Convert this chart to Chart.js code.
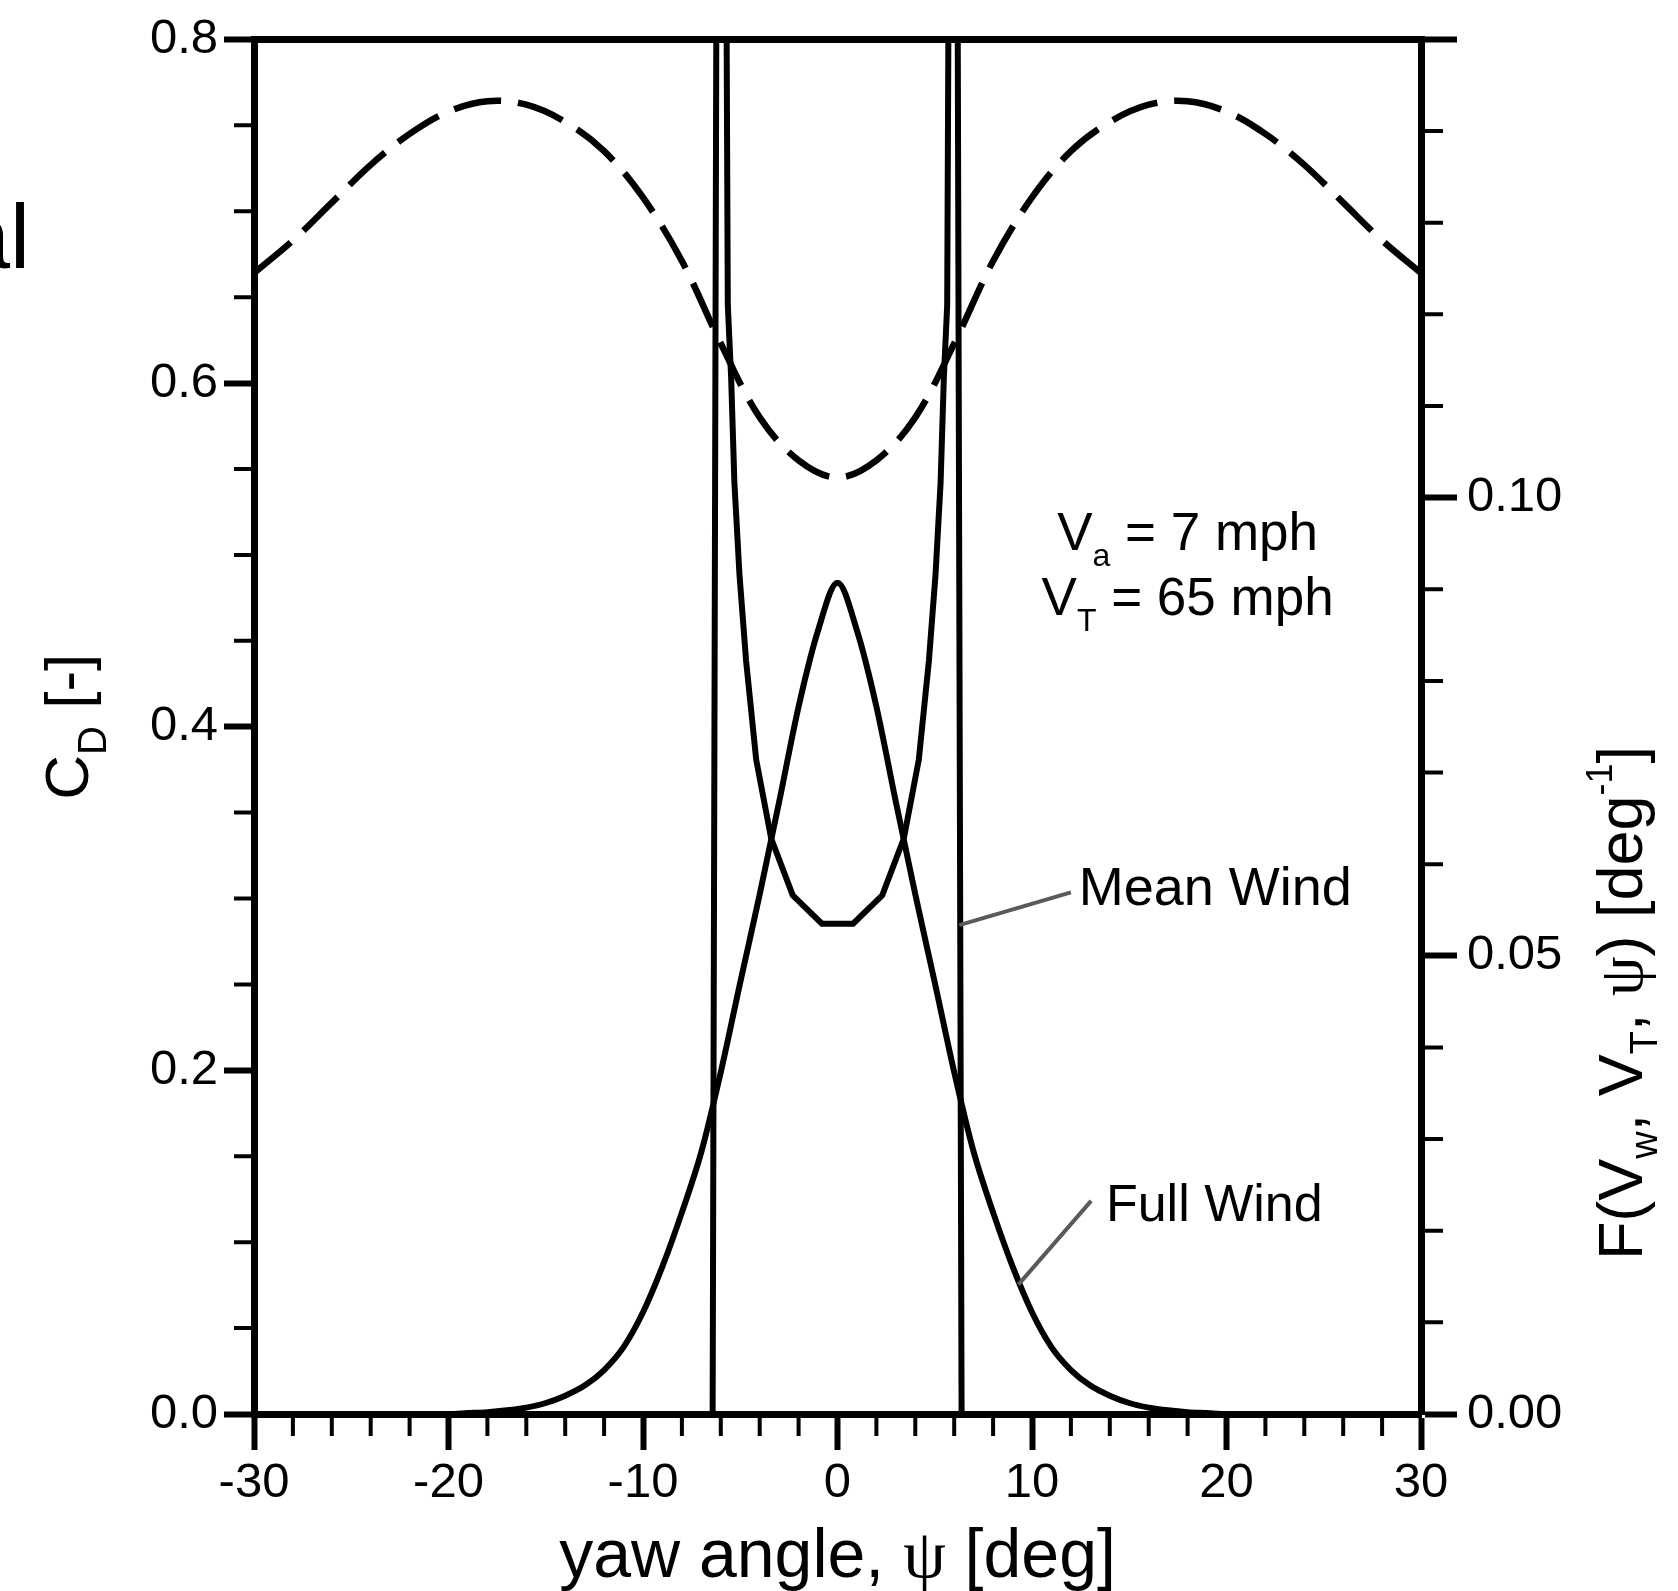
<!DOCTYPE html>
<html>
<head>
<meta charset="utf-8">
<script src="https://cdn.jsdelivr.net/npm/chart.js@4"></script>
<style>
  html, body { margin: 0; padding: 0; background: #fff; }
  #wrap { width: 1678px; height: 1591px; }
</style>
</head>
<body>
<div id="wrap"><canvas id="chart" width="1678" height="1591"></canvas></div>
<script>
// drag coefficient vs yaw angle (dashed, left axis)
const yawCd = [-30, -28, -26, -24, -22, -20, -18, -16, -14, -12, -10, -8, -6, -4, -2, 0,
  2, 4, 6, 8, 10, 12, 14, 16, 18, 20, 22, 24, 26, 28, 30];
const cdValues = [0.664, 0.683, 0.705, 0.727, 0.745, 0.758, 0.764, 0.762, 0.752, 0.735, 0.708, 0.671, 0.623, 0.580, 0.555, 0.545,
  0.555, 0.580, 0.623, 0.671, 0.708, 0.735, 0.752, 0.762, 0.764, 0.758, 0.745, 0.727, 0.705, 0.683, 0.664];

// yaw angle distribution, full wind (right axis)
const yawFull = [-30, -20, -19, -18, -17, -16, -15, -14, -13, -12, -11, -10, -9, -8, -7, -6, -5, -4, -3, -2, -1, 0,
  1, 2, 3, 4, 5, 6, 7, 8, 9, 10, 11, 12, 13, 14, 15, 16, 17, 18, 19, 20, 30];
const fullWind = [0, 0, 0.0001, 0.0002, 0.0004, 0.0007, 0.0012, 0.0020, 0.0031, 0.0048, 0.0073, 0.0111, 0.0161, 0.0220, 0.0286, 0.0373, 0.0471, 0.0567, 0.0668, 0.0772, 0.0855, 0.0907,
  0.0855, 0.0772, 0.0668, 0.0567, 0.0471, 0.0373, 0.0286, 0.0220, 0.0161, 0.0111, 0.0073, 0.0048, 0.0031, 0.0020, 0.0012, 0.0007, 0.0004, 0.0002, 0.0001, 0, 0];

// yaw angle distribution, mean wind only (right axis, runs off the top near +-6 deg)
const yawMean = [-30, -6.42, -6.22, -5.72, -5.64, -5.47, -5.30, -5.04, -4.70, -4.18, -3.41, -2.30, -0.80,
  0.80, 2.30, 3.41, 4.18, 4.70, 5.04, 5.30, 5.47, 5.64, 5.72, 6.17, 6.38, 30];
const meanWind = [0, 0, 0.16, 0.16, 0.121, 0.1132, 0.1016, 0.0916, 0.0822, 0.0714, 0.0628, 0.0566, 0.0535,
  0.0535, 0.0566, 0.0628, 0.0714, 0.0822, 0.0916, 0.1016, 0.1132, 0.121, 0.16, 0.16, 0, 0];

const SANS = "'Liberation Sans', Arial, sans-serif";
const SERIF = "'Liberation Serif', 'Times New Roman', serif";

function toPoints(xs, ys) {
  return xs.map((x, i) => ({ x: x, y: ys[i] }));
}

// draws a run of text pieces: [text, size, dy, family]
function richText(ctx, parts, x, y, align) {
  let w = 0;
  parts.forEach((p) => {
    ctx.font = p[1] + "px " + (p[3] || SANS);
    w += ctx.measureText(p[0]).width;
  });
  let cx = align === "center" ? x - w / 2 : x;
  ctx.textAlign = "left";
  ctx.textBaseline = "alphabetic";
  parts.forEach((p) => {
    ctx.font = p[1] + "px " + (p[3] || SANS);
    ctx.fillText(p[0], cx, y + (p[2] || 0));
    cx += ctx.measureText(p[0]).width;
  });
}

const decorPlugin = {
  id: "decor",
  afterDatasetsDraw(chart) {
    const ctx = chart.ctx;
    const area = chart.chartArea;
    const xs = chart.scales.x;
    const yl = chart.scales.y;
    const yr = chart.scales.y2;
    ctx.save();
    ctx.strokeStyle = "#000";
    ctx.fillStyle = "#000";

    // top frame
    ctx.lineWidth = 7;
    ctx.beginPath();
    ctx.moveTo(area.left, area.top);
    ctx.lineTo(area.right, area.top);
    ctx.stroke();

    // minor ticks
    ctx.lineWidth = 4;
    ctx.beginPath();
    for (let d = -30; d <= 30; d += 2) {
      if (d % 10 === 0) continue;
      const px = xs.getPixelForValue(d);
      ctx.moveTo(px, area.bottom);
      ctx.lineTo(px, area.bottom + 22);
    }
    for (let i = 0; i <= 16; i++) {
      if (i % 4 === 0) continue;
      const py = yl.getPixelForValue(i * 0.05);
      ctx.moveTo(area.left, py);
      ctx.lineTo(area.left - 20, py);
    }
    for (let i = 0; i <= 15; i++) {
      if (i % 5 === 0) continue;
      const py = yr.getPixelForValue(i / 100);
      ctx.moveTo(area.right, py);
      ctx.lineTo(area.right + 22, py);
    }
    ctx.stroke();

    // leader lines
    ctx.strokeStyle = "#5a5a5a";
    ctx.lineWidth = 4;
    ctx.beginPath();
    ctx.moveTo(xs.getPixelForValue(6.26), yl.getPixelForValue(0.2845));
    ctx.lineTo(xs.getPixelForValue(12.0), yl.getPixelForValue(0.3036));
    ctx.moveTo(xs.getPixelForValue(13.04), yl.getPixelForValue(0.124));
    ctx.lineTo(xs.getPixelForValue(9.3), yl.getPixelForValue(0.0753));
    ctx.stroke();

    // labels inside the plot
    richText(ctx, [["Mean Wind", 54]], xs.getPixelForValue(12.4), yl.getPixelForValue(0.296), "left");
    richText(ctx, [["Full Wind", 52]], xs.getPixelForValue(13.8), yl.getPixelForValue(0.1124), "left");
    richText(ctx, [["V", 53], ["a", 32, 16], [" = 7 mph", 53]],
      xs.getPixelForValue(18), yl.getPixelForValue(0.503), "center");
    richText(ctx, [["V", 53], ["T", 32, 16], [" = 65 mph", 53]],
      xs.getPixelForValue(18), yl.getPixelForValue(0.465), "center");

    // x axis title
    richText(ctx, [["yaw angle, ", 68], ["\u03c8", 68, 0, SERIF], [" [deg]", 68]],
      xs.getPixelForValue(0), 1577, "center");

    // left axis title
    ctx.save();
    ctx.translate(88, (area.top + area.bottom) / 2);
    ctx.rotate(-Math.PI / 2);
    richText(ctx, [["C", 62], ["D", 40, 18], [" [-]", 62]], 0, 0, "center");
    ctx.restore();

    // right axis title
    ctx.save();
    ctx.translate(1642, 1003);
    ctx.rotate(-Math.PI / 2);
    richText(ctx, [["F(V", 63], ["w", 38, 15], [", V", 63], ["T", 38, 15], [", ", 63],
      ["\u03c8", 63, 0, SERIF], [") [deg", 63], ["-1", 36, -30], ["]", 63]], 0, 0, "center");
    ctx.restore();

    // cut-off heading fragment at the page edge
    ctx.font = "90px " + SANS;
    ctx.fillText("al", -40, 268);
    ctx.restore();
  },
};

const tickFont = { family: SANS, size: 49 };

new Chart(document.getElementById("chart").getContext("2d"), {
  type: "line",
  data: {
    datasets: [
      {
        label: "C_D",
        data: toPoints(yawCd, cdValues),
        yAxisID: "y",
        borderColor: "#000",
        borderWidth: 6.5,
        borderDash: [48, 17],
        pointRadius: 0,
        tension: 0.35,
      },
      {
        label: "Full Wind",
        data: toPoints(yawFull, fullWind),
        yAxisID: "y2",
        borderColor: "#000",
        borderWidth: 6,
        pointRadius: 0,
        cubicInterpolationMode: "monotone",
      },
      {
        label: "Mean Wind",
        data: toPoints(yawMean, meanWind),
        yAxisID: "y2",
        borderColor: "#000",
        borderWidth: 6,
        pointRadius: 0,
        tension: 0,
      },
    ],
  },
  options: {
    responsive: false,
    animation: false,
    devicePixelRatio: 1,
    layout: { padding: { top: 33, left: 0, right: 0, bottom: 0 } },
    plugins: {
      legend: { display: false },
      tooltip: { enabled: false },
    },
    scales: {
      x: {
        type: "linear",
        min: -30,
        max: 30,
        afterFit: (s) => { s.height = 177; },
        ticks: {
          stepSize: 10,
          color: "#000",
          font: tickFont,
          padding: 4,
          maxRotation: 0,
          callback: (v) => String(v),
        },
        grid: {
          display: true,
          drawOnChartArea: false,
          tickLength: 36,
          tickWidth: 6,
          tickColor: "#000",
          color: "#000",
        },
        border: { display: true, width: 7, color: "#000" },
      },
      y: {
        position: "left",
        min: 0,
        max: 0.8,
        afterFit: (s) => { s.width = 254; },
        ticks: {
          stepSize: 0.2,
          color: "#000",
          font: tickFont,
          padding: 6,
          callback: (v) => v.toFixed(1),
        },
        grid: {
          display: true,
          drawOnChartArea: false,
          tickLength: 30,
          tickWidth: 6,
          tickColor: "#000",
          color: "#000",
        },
        border: { display: true, width: 7, color: "#000" },
      },
      y2: {
        position: "right",
        min: 0,
        max: 0.15,
        afterFit: (s) => { s.width = 257; },
        ticks: {
          stepSize: 0.05,
          color: "#000",
          font: tickFont,
          padding: 10,
          callback: (v) => (Math.abs(v - 0.15) < 1e-9 ? "" : v.toFixed(2)),
        },
        grid: {
          display: true,
          drawOnChartArea: false,
          tickLength: 36,
          tickWidth: 6,
          tickColor: "#000",
          color: "#000",
        },
        border: { display: true, width: 7, color: "#000" },
      },
    },
  },
  plugins: [decorPlugin],
});
</script>
</body>
</html>
